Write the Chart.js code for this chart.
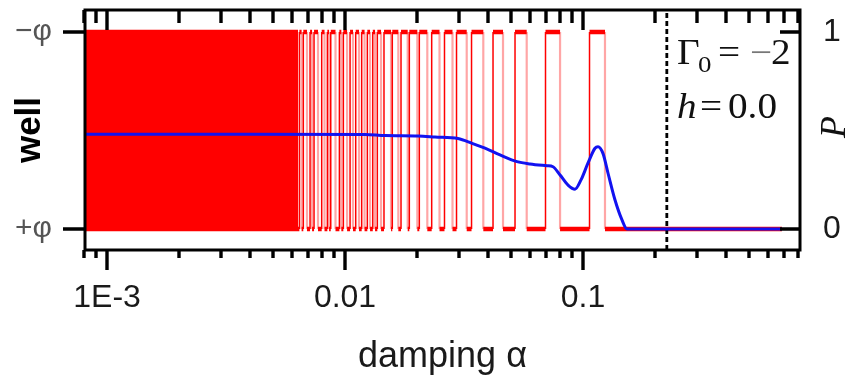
<!DOCTYPE html>
<html>
<head>
<meta charset="utf-8">
<script src="https://cdn.jsdelivr.net/npm/chart.js@4/dist/chart.umd.min.js"></script>
<style>
  html, body { margin: 0; padding: 0; background: #fff; }
  #wrap { width: 849px; height: 378px; }
</style>
</head>
<body>
<div id="wrap"><canvas id="chart" width="849" height="378"></canvas></div>
<script>
// damping sweep: final well of the particle (red) and probability P (blue)
const alphaRange = [0.000808, 0.8162]
const wellRange = [-0.1066, 1.1117]

// below ~6e-3 the final well flips faster than the plot resolves
const denseBand = [0.000808, 0.006346]
// alternating flips: +phi -> -phi, then back, ...
const wellFlips = [
  0.00643, 0.00657, 0.00668, 0.00692, 0.00713, 0.00727, 0.00741, 0.00770,
  0.00798, 0.00820, 0.00843, 0.00857, 0.00871, 0.00912, 0.00947, 0.00965,
  0.00984, 0.0102, 0.0105, 0.0108, 0.01109, 0.01145, 0.01175, 0.01208,
  0.01241, 0.01274, 0.01308, 0.01337, 0.01367, 0.01417, 0.01458, 0.01561,
  0.01580, 0.01675, 0.01719, 0.01834, 0.01863, 0.02013, 0.02052, 0.02217,
  0.02313, 0.02495, 0.02618, 0.02829, 0.02941, 0.03246, 0.03401, 0.03811,
  0.04187, 0.04612, 0.05180, 0.05800, 0.06957, 0.08009, 0.1065, 0.1237,
]
const wellEnd = 0.6855

const pAlpha = [
  0.000808, 0.00399, 0.01213, 0.01473, 0.02026, 0.02389, 0.02984, 0.03418,
  0.03874, 0.04480, 0.05281, 0.05988, 0.07060, 0.07479, 0.08009, 0.08650,
  0.09256, 0.09808, 0.1049, 0.1123, 0.1156, 0.1213, 0.1274, 0.1363,
  0.1458, 0.1530, 0.6855,
]
const pValue = [
  0.481, 0.481, 0.480, 0.474, 0.472, 0.467, 0.459, 0.435,
  0.410, 0.376, 0.342, 0.330, 0.321, 0.316, 0.274, 0.223,
  0.202, 0.249, 0.334, 0.410, 0.418, 0.384, 0.283, 0.147,
  0.046, 0, 0,
]

const separatrixAlpha = 0.225

const xTickValues = [
  0.0008, 0.0009,
  0.001, 0.002, 0.003, 0.004, 0.005, 0.006, 0.007, 0.008, 0.009,
  0.01, 0.02, 0.03, 0.04, 0.05, 0.06, 0.07, 0.08, 0.09,
  0.1, 0.2, 0.3, 0.4, 0.5, 0.6, 0.7, 0.8,
]
const xTickLabels = { 0.001: "1E-3", 0.01: "0.01", 0.1: "0.1" }
const wellTickLabels = ["+φ", "−φ"]
const pTickLabels = ["0", "1"]

var RED = "rgb(255,0,0)"
var PINK = "rgba(255,0,0,0.35)"
var SANS = "'Liberation Sans', Arial, sans-serif"
var SERIF = "'Liberation Serif', 'Times New Roman', serif"

// square wave between the two wells
var wellPoints = [{ x: denseBand[0], y: 0 }, { x: denseBand[1], y: 0 }]
var state = 0
wellFlips.forEach((a) => {
  wellPoints.push({ x: a, y: state })
  state = 1 - state
  wellPoints.push({ x: a, y: state })
})
wellPoints.push({ x: wellEnd, y: state })

var pPoints = pAlpha.map((a, i) => ({ x: a, y: pValue[i] }))

var flat = (ctx) => ctx.p0.parsed.y === ctx.p1.parsed.y

var noPad = (s) => {
  s.paddingTop = 0
  s.paddingBottom = 0
  s.paddingLeft = 0
  s.paddingRight = 0
}

var frameTicks = {
  id: "frameTicks",
  afterDraw: function (chart) {
    var ctx = chart.ctx
    var a = chart.chartArea
    var sx = chart.scales.x
    var sy = chart.scales.y
    ctx.save()
    ctx.strokeStyle = "#000"
    ctx.lineWidth = 3
    ctx.strokeRect(a.left, a.top, a.right - a.left, a.bottom - a.top)
    ctx.lineWidth = 3.4
    ctx.beginPath()
    sx.ticks.forEach((t) => {
      var px = Math.round(sx.getPixelForValue(t.value))
      var major = xTickLabels[t.value] !== undefined
      ctx.moveTo(px, a.bottom)
      ctx.lineTo(px, a.bottom + (major ? 20 : 8))
      ctx.moveTo(px, a.top)
      ctx.lineTo(px, a.top + (major ? 20 : 13))
    })
    ;[0, 1].forEach((v) => {
      var py = Math.round(sy.getPixelForValue(v))
      ctx.moveTo(a.left - 22, py)
      ctx.lineTo(a.left, py)
      ctx.moveTo(a.right - 20, py)
      ctx.lineTo(a.right, py)
    })
    ctx.stroke()

    // annotation
    var put = (txt, x, y, font, color) => {
      ctx.save()
      ctx.font = font
      ctx.fillStyle = color || "#111"
      ctx.translate(x, y)
      ctx.scale(1.12, 1)
      ctx.fillText(txt, 0, 0)
      ctx.restore()
    }
    ctx.textBaseline = "alphabetic"
    ctx.textAlign = "left"
    put("Γ", 677, 64, "35px " + SERIF)
    put("0", 698, 72, "24px " + SERIF)
    put("=", 718, 64, "35px " + SERIF)
    put("−", 750, 64, "35px " + SERIF, "#777")
    put("2", 771, 64, "35px " + SERIF)
    put("h", 677, 118, "italic 35px " + SERIF)
    put("=", 700, 118, "35px " + SERIF)
    put("0.0", 728, 118, "35px " + SERIF)

    // right axis title
    ctx.save()
    ctx.translate(836, 127)
    ctx.rotate(-Math.PI / 2)
    ctx.font = "italic 36px " + SERIF
    ctx.fillStyle = "#111"
    ctx.textAlign = "center"
    ctx.textBaseline = "middle"
    ctx.fillText("P", 0, 0)
    ctx.restore()
    ctx.restore()
  },
}

new Chart(document.getElementById("chart"), {
  type: "line",
  data: {
    datasets: [
      {
        label: "P",
        data: pPoints,
        yAxisID: "yR",
        borderColor: "#1212f0",
        borderWidth: 3,
        cubicInterpolationMode: "monotone",
        pointRadius: 0,
        order: 0,
      },
      {
        label: "separatrix",
        data: [
          { x: separatrixAlpha, y: wellRange[0] },
          { x: separatrixAlpha, y: wellRange[1] },
        ],
        yAxisID: "y",
        borderColor: "#000",
        borderWidth: 2.8,
        borderDash: [5, 3],
        pointRadius: 0,
        order: 1,
      },
      {
        label: "well",
        data: wellPoints,
        yAxisID: "y",
        borderColor: RED,
        borderWidth: 1.5,
        borderCapStyle: "butt",
        pointRadius: 0,
        segment: {
          borderWidth: (ctx) => (flat(ctx) ? 4.5 : ctx.p1.parsed.y > ctx.p0.parsed.y ? 1.5 : 2.2),
          borderColor: (ctx) => (flat(ctx) || ctx.p1.parsed.y > ctx.p0.parsed.y ? RED : PINK),
        },
        order: 2,
      },
      {
        label: "dense",
        data: [
          { x: denseBand[0], y: 1 },
          { x: denseBand[1], y: 1 },
        ],
        yAxisID: "y",
        borderColor: RED,
        borderWidth: 4.5,
        backgroundColor: RED,
        fill: { value: 0 },
        pointRadius: 0,
        order: 3,
      },
    ],
  },
  options: {
    responsive: false,
    animation: false,
    devicePixelRatio: 1,
    layout: { padding: { top: 10, left: 0, right: 0, bottom: 0 } },
    plugins: { legend: { display: false }, tooltip: { enabled: false } },
    scales: {
      x: {
        type: "logarithmic",
        min: alphaRange[0],
        max: alphaRange[1],
        grid: { display: false, drawTicks: false },
        border: { display: false },
        afterBuildTicks: (s) => {
          s.ticks = xTickValues.map((v) => ({ value: v }))
        },
        ticks: {
          autoSkip: false,
          maxRotation: 0,
          padding: 29,
          color: "#1a1a1a",
          font: { family: SANS, size: 32 },
          callback: (v) => xTickLabels[v] || "",
        },
        title: {
          display: true,
          text: "damping α",
          color: "#1a1a1a",
          font: { family: SANS, size: 36 },
          padding: { top: 0, bottom: -1 },
        },
        afterFit: (s) => {
          s.height = 128
          noPad(s)
        },
      },
      y: {
        position: "left",
        min: wellRange[0],
        max: wellRange[1],
        grid: { display: false, drawTicks: false },
        border: { display: false },
        afterBuildTicks: (s) => {
          s.ticks = [{ value: 0 }, { value: 1 }]
        },
        ticks: {
          padding: 33,
          color: "#555",
          font: { family: SANS, size: 30 },
          callback: (v) => wellTickLabels[v],
        },
        title: {
          display: true,
          text: "well",
          color: "#000",
          font: { family: SANS, size: 35, weight: "bold" },
          padding: { top: 9, bottom: 0 },
        },
        afterFit: (s) => {
          s.width = 85
          noPad(s)
        },
      },
      yR: {
        position: "right",
        min: wellRange[0],
        max: wellRange[1],
        grid: { display: false, drawTicks: false },
        border: { display: false },
        afterBuildTicks: (s) => {
          s.ticks = [{ value: 0 }, { value: 1 }]
        },
        ticks: {
          padding: 23,
          color: "#1a1a1a",
          font: { family: SANS, size: 32 },
          callback: (v) => pTickLabels[v],
        },
        afterFit: (s) => {
          s.width = 49
          noPad(s)
        },
      },
    },
  },
  plugins: [frameTicks],
})
</script>
</body>
</html>
